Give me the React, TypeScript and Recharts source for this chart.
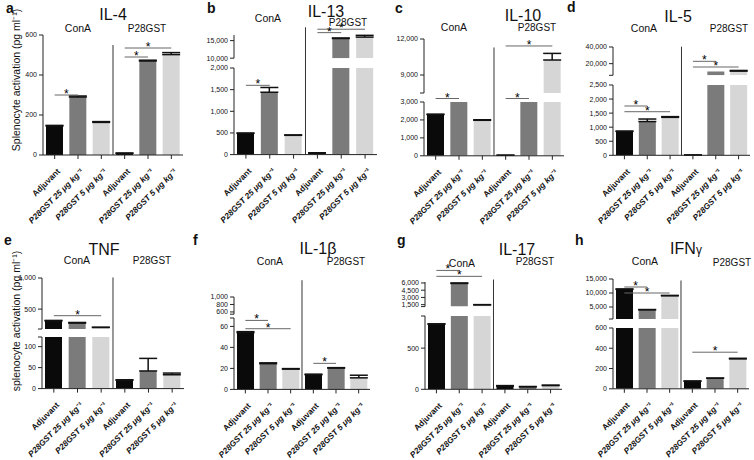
import { BarChart, Bar, XAxis, YAxis, ErrorBar, Cell, ReferenceLine } from 'recharts';

const FONT = '"Liberation Sans", Arial, sans-serif';
const COLORS = ['#0a0a0a', '#7b7b7b', '#d6d6d6', '#0a0a0a', '#7b7b7b', '#d6d6d6'];

const categories = [
  'Adjuvant',
  'P28GST 25 μg kg⁻¹',
  'P28GST 5 μg kg⁻¹',
  'Adjuvant',
  'P28GST 25 μg kg⁻¹',
  'P28GST 5 μg kg⁻¹',
];
const groupNames = ['ConA', 'P28GST'];
const letters = ['a', 'b', 'c', 'd', 'e', 'f', 'g', 'h'];

// cytokine values (pg/ml), order follows categories
const il4 = [145, 290, 163, 8, 470, 502];
const il4Err = [3, 5, 4, 2, 4, 10];
const il13 = [490, 1440, 445, 37, 15600, 16000];
const il13Err = [8, 110, 10, 5, 150, 500];
const il10 = [2300, 3000, 1980, 30, 3000, 10250];
const il10Err = [20, 0, 30, 5, 0, 550];
const il5 = [850, 1200, 1350, 10, 10500, 11000];
const il5Err = [10, 90, 25, 2, 0, 800];
const tnf = [310, 275, 205, 20, 42, 33];
const tnfErr = [8, 10, 3, 1, 30, 4];
const il1b = [54, 24.5, 19.3, 14, 20.3, 11];
const il1bErr = [1, 0.8, 0.5, 0.5, 0.4, 2.5];
const il17 = [790, 5900, 1450, 40, 30, 45];
const il17Err = [5, 100, 60, 5, 4, 6];
const ifng = [11300, 4000, 9000, 75, 104, 295];
const ifngErr = [150, 100, 150, 2, 2, 6];

// significance brackets: [from, to, level, axis segment (0 = top)]
const il4Sig = [[0, 1, 300, 0], [3, 4, 490, 0], [3, 5, 535, 0]];
const il13Sig = [[0, 1, 1600, 1], [3, 4, 17270, 0], [3, 5, 18240, 0]];
const il10Sig = [[0, 1, 3195, 1], [3, 4, 3195, 1], [3, 5, 11420, 0]];
const il5Sig = [[0, 1, 1753, 1], [0, 2, 1550, 1], [3, 4, 22800, 0], [3, 5, 15960, 0]];
const tnfSig = [[0, 2, 394, 0]];
const il1bSig = [[0, 1, 65.7, 1], [0, 2, 57.8, 1], [3, 4, 24.8, 1]];
const il17Sig = [[0, 1, 8600, 0], [0, 2, 7370, 0]];
const ifngSig = [[0, 1, 12140, 0], [0, 2, 10000, 0], [3, 5, 361, 1]];

type Seg = { min: number; max: number; y0: number; y1: number; ticks: number[]; blank?: number[] };
type Pt = [number, number];
type Panel = {
  title: string;
  sub?: string;
  values: number[];
  errors: number[];
  sig: number[][];
  left: number;
  right: number;
  segs: Seg[];
  div: number;
  letter: Pt;
  titlePos: Pt;
  conA: Pt;
  p28: Pt;
};

const panels: Panel[] = [
  {
    title: 'IL-4', values: il4, errors: il4Err, sig: il4Sig, left: 43, right: 183,
    segs: [{ min: 0, max: 600, y0: 35, y1: 155, ticks: [0, 200, 400, 600] }],
    div: 550, letter: [6, 13], titlePos: [113, 20], conA: [78, 32], p28: [147, 32],
  },
  {
    title: 'IL-13', values: il13, errors: il13Err, sig: il13Sig, left: 234, right: 377,
    segs: [
      { min: 10000, max: 16600, y0: 35.1, y1: 58.3, ticks: [10000, 15000] },
      { min: 0, max: 2000, y0: 67.7, y1: 154.3, ticks: [0, 500, 1000, 1500, 2000] },
    ],
    div: 2940, letter: [207, 13], titlePos: [326, 17], conA: [268, 22], p28: [348, 26],
  },
  {
    title: 'IL-10', values: il10, errors: il10Err, sig: il10Sig, left: 424, right: 564,
    segs: [
      { min: 7500, max: 12000, y0: 39, y1: 93, ticks: [7500, 9000, 12000], blank: [7500] },
      { min: 0, max: 3000, y0: 101.5, y1: 155.3, ticks: [0, 1000, 2000, 3000] },
    ],
    div: 6040, letter: [395, 13], titlePos: [523, 21], conA: [454, 31], p28: [537, 31],
  },
  {
    title: 'IL-5', values: il5, errors: il5Err, sig: il5Sig, left: 613, right: 750,
    segs: [
      { min: 6000, max: 40000, y0: 46.7, y1: 75, ticks: [6000, 20000, 40000], blank: [6000] },
      { min: 0, max: 2500, y0: 85, y1: 155.3, ticks: [0, 500, 1000, 1500, 2000, 2500] },
    ],
    div: 3862, letter: [567, 12], titlePos: [678, 22], conA: [644, 32], p28: [729, 32],
  },
  {
    title: 'TNF', values: tnf, errors: tnfErr, sig: tnfSig, left: 42, right: 184,
    segs: [
      { min: 180, max: 1000, y0: 278.3, y1: 329.3, ticks: [180, 500, 1000], blank: [180] },
      { min: 0, max: 123, y0: 336.7, y1: 388.3, ticks: [0, 50, 100, 123], blank: [123] },
    ],
    div: 265, letter: [4, 245], titlePos: [104, 255], conA: [77, 264], p28: [152, 264],
  },
  {
    title: 'IL-1β', values: il1b, errors: il1bErr, sig: il1bSig, left: 234, right: 370,
    segs: [
      { min: 540, max: 1000, y0: 296.7, y1: 313.9, ticks: [540, 600, 800, 1000], blank: [540] },
      { min: 0, max: 68, y0: 317.6, y1: 389, ticks: [0, 20, 40, 60, 68], blank: [68] },
    ],
    div: 104, letter: [193, 245], titlePos: [318, 254], conA: [270, 265], p28: [346, 265],
  },
  {
    title: 'IL-17', values: il17, errors: il17Err, sig: il17Sig, left: 425, right: 562,
    segs: [
      { min: 1100, max: 6200, y0: 282.3, y1: 306.9, ticks: [1100, 1500, 3000, 4500, 6000], blank: [1100] },
      { min: 0, max: 890, y0: 316, y1: 389.3, ticks: [0, 500, 890], blank: [890] },
    ],
    div: 1333, letter: [397, 245], titlePos: [517, 255], conA: [462, 267], p28: [535, 265],
  },
  {
    title: 'IFN', sub: 'γ', values: ifng, errors: ifngErr, sig: ifngSig, left: 613, right: 749,
    segs: [
      { min: 720, max: 15000, y0: 279.3, y1: 319.3, ticks: [720, 5000, 10000, 15000], blank: [720] },
      { min: 0, max: 600, y0: 327.5, y1: 388.3, ticks: [0, 200, 400, 600] },
    ],
    div: 1069, letter: [575, 245], titlePos: [686, 254], conA: [645, 265], p28: [732, 266],
  },
];

const AXW = 40;
const PADT = 80;
const PADR = 4;
const PADB = 4;
const XH = 80;

const CatTick = (props: any) => {
  const { x, y, payload } = props;
  const label = categories[payload.value] ?? '';
  const ax = x + 6;
  const ay = y + 11;
  return (
    <text
      x={ax}
      y={ay}
      transform={`rotate(-45 ${ax} ${ay})`}
      textAnchor="end"
      fontSize={8.3}
      fontWeight="bold"
      fontStyle={label === 'Adjuvant' ? 'normal' : 'italic'}
      fontFamily={FONT}
      fill="#111"
    >
      {label}
    </text>
  );
};

const Segment = ({ p, si }: { p: Panel; si: number }) => {
  const seg = p.segs[si];
  const last = si === p.segs.length - 1;
  const rows = p.values.map((v, i) => {
    const shown = seg.min === 0 || v > seg.min;
    const inside = v > seg.min && v <= seg.max && p.errors[i] > 0;
    return { x: i, v: shown ? v : null, e: inside ? [0, p.errors[i]] : undefined };
  });
  const w = p.right - p.left + AXW + PADR;
  const h = seg.y1 - seg.y0 + PADT + (last ? XH : PADB);
  return (
    <div style={{ position: 'absolute', left: p.left - AXW, top: seg.y0 - PADT }}>
      <BarChart
        width={w}
        height={h}
        data={rows}
        margin={{ top: PADT, right: PADR, left: 0, bottom: last ? 0 : PADB }}
        barSize={17}
      >
        <XAxis
          dataKey="x"
          type="number"
          domain={[-0.5, 5.5]}
          ticks={[0, 1, 2, 3, 4, 5]}
          interval={0}
          allowDataOverflow
          hide={!last}
          height={XH}
          tickSize={4}
          tick={(t: any) => <CatTick {...t} />}
          axisLine={{ stroke: '#222' }}
          tickLine={{ stroke: '#222' }}
        />
        <YAxis
          type="number"
          domain={[seg.min, seg.max]}
          ticks={seg.ticks}
          interval={0}
          allowDataOverflow
          width={AXW}
          tickSize={4}
          tick={{ fontSize: 7, fill: '#111', fontFamily: FONT }}
          tickFormatter={(v: number) => (seg.blank && seg.blank.includes(v) ? '' : v.toLocaleString('en-US'))}
          axisLine={{ stroke: '#222' }}
          tickLine={{ stroke: '#222' }}
        />
        <Bar dataKey="v" isAnimationActive={false}>
          {rows.map((r) => (
            <Cell key={r.x} fill={COLORS[r.x]} />
          ))}
          <ErrorBar dataKey="e" width={9} stroke="#111" strokeWidth={1.5} direction="y" />
        </Bar>
        {last && (
          <ReferenceLine
            segment={[{ x: 2.5, y: 0 }, { x: 2.5, y: p.div }]}
            ifOverflow="visible"
            stroke="#333"
            strokeWidth={1}
          />
        )}
        {p.sig
          .filter((s) => s[3] === si)
          .map((s, k) => (
            <ReferenceLine
              key={k}
              segment={[{ x: s[0], y: s[2] }, { x: s[1], y: s[2] }]}
              ifOverflow="visible"
              stroke="#666"
              strokeWidth={1}
              label={{ value: '*', position: 'top', offset: -3, fontSize: 12, fill: '#000', fontFamily: FONT }}
            />
          ))}
      </BarChart>
    </div>
  );
};

const Overlay = () => (
  <svg
    width={754}
    height={460}
    style={{ position: 'absolute', left: 0, top: 0, pointerEvents: 'none' }}
    fontFamily={FONT}
  >
    {panels.map((p, i) => (
      <g key={p.title}>
        <text x={p.letter[0]} y={p.letter[1]} fontSize={14} fontWeight="bold" fill="#111">
          {letters[i]}
        </text>
        <text x={p.titlePos[0]} y={p.titlePos[1]} fontSize={16} textAnchor="middle" fill="#111">
          {p.title}
          {p.sub && <tspan fontSize={12}>{p.sub}</tspan>}
        </text>
        <text x={p.conA[0]} y={p.conA[1]} fontSize={10.5} textAnchor="middle" fill="#111">
          {groupNames[0]}
        </text>
        <text x={p.p28[0]} y={p.p28[1]} fontSize={10} textAnchor="middle" fill="#111">
          {groupNames[1]}
        </text>
      </g>
    ))}
    <text x={20} y={80} fontSize={10.5} textAnchor="middle" transform="rotate(-90 20 80)" fill="#111">
      Splenocyte activation (pg ml⁻¹)
    </text>
    <text x={20} y={321} fontSize={10.5} textAnchor="middle" transform="rotate(-90 20 321)" fill="#111">
      splenocyte activation (pg ml⁻¹)
    </text>
  </svg>
);

export default function App() {
  return (
    <div style={{ position: 'absolute', left: 0, top: 0, width: 754, height: 460, background: '#fff', overflow: 'hidden' }}>
      {panels.map((p) => p.segs.map((_, si) => <Segment key={`${p.title}-${si}`} p={p} si={si} />))}
      <Overlay />
    </div>
  );
}
